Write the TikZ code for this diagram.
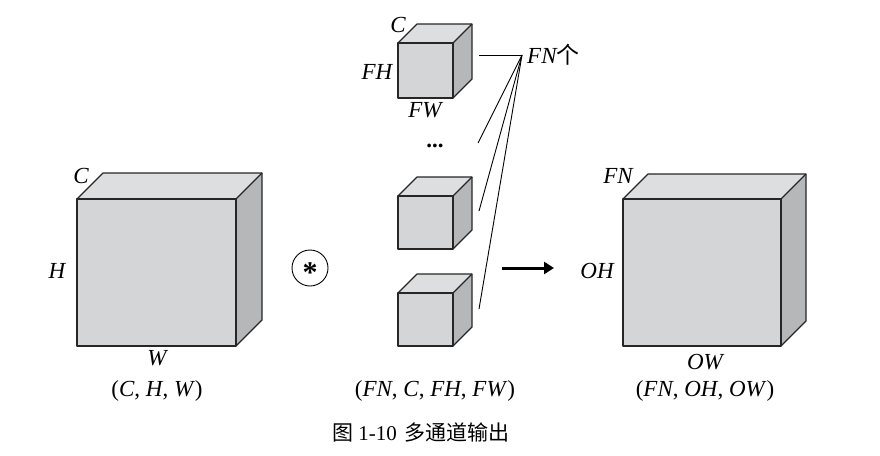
\documentclass[tikz,border=0pt]{standalone}
\usepackage{fontspec}
\setmainfont{Liberation Serif}
\newfontfamily\cjk{Noto Sans CJK SC}
\usetikzlibrary{arrows.meta}
\definecolor{cfront}{HTML}{D4D5D7}
\definecolor{ctop}{HTML}{DDDEE0}
\definecolor{cside}{HTML}{B6B7B9}
\newcommand\drawcube[5]{% x y w h d
  \fill[ctop] (#1,#2) -- ++(#5,-#5) -- ++(#3,0) -- ++(-#5,#5) -- cycle;
  \fill[cside] (#1+#3,#2) -- ++(#5,-#5) -- ++(0,#4) -- ++(-#5,#5) -- cycle;
  \fill[cfront] (#1,#2) rectangle ++(#3,#4);
  \draw[cubeline] (#1,#2) rectangle ++(#3,#4);
  \draw[cubeline] (#1,#2) -- ++(#5,-#5) -- ++(#3,0) -- ++(0,#4) -- ++(-#5,#5);
  \draw[cubeline] (#1+#3,#2) -- ++(#5,-#5);
}
\tikzset{
  cubeline/.style={line width=1.2pt, line join=round, draw=black!85},
  lbl/.style={font=\fontsize{23}{26}\selectfont\itshape, inner sep=0pt},
  captxt/.style={font=\fontsize{23}{26}\selectfont, inner sep=0pt},
  thinln/.style={line width=0.9pt}
}
\begin{document}
\begin{tikzpicture}[x=1pt,y=-1pt]
\useasboundingbox (0,0) rectangle (880,455);
% cubes
\drawcube{77}{199}{159}{147}{26}
\drawcube{623}{199}{158}{147}{25}
\drawcube{398}{43}{55}{55}{19}
\drawcube{398}{196}{55}{53}{19}
\drawcube{398}{293}{55}{53}{19}
% labels big left
\node[lbl] (lc) at (81,176) {C};
\node[lbl] (lh) at (57,271) {H};
\node[lbl] (lw) at (157,358) {W};
\node[captxt] (lchw) at (157,391) {(\textit{C}, \textit{H}, \textit{W})};
% small cube labels
\node[lbl] (sc) at (398,25) {C};
\node[lbl] (sfh) at (377,72) {FH};
\node[lbl] (sfw) at (425,110) {FW};
\node[captxt] (dots) at (435,146) {\textbf{...}};
\node[captxt] (fnct) at (435,391) {(\textit{FN}, \textit{C}, \textit{FH}, \textit{FW})};
% FN label and lines
\coordinate (apex) at (522,55);
\node[lbl, anchor=west] (fn) at (527,55) {FN{\upshape\cjk 个}};
\coordinate (e0) at (479,55);
\coordinate (e1) at (478,143);
\coordinate (e2) at (479,211);
\coordinate (e3) at (479,309);
\draw[thinln] (apex) -- (e0);
\draw[thinln] (apex) -- (e1);
\draw[thinln] (apex) -- (e2);
\draw[thinln] (apex) -- (e3);
% asterisk
\node[draw, circle, thinln, minimum size=36pt, inner sep=0pt] (star) at (310,268) {};
\node[inner sep=0pt, font=\fontsize{30}{30}\selectfont\bfseries] (starsym) at ([yshift=-5pt]star.center) {*};
% arrow
\coordinate (a0) at (502,268);
\coordinate (a1) at (554,268);
\draw[line width=3pt, -{Triangle[length=10pt,width=12pt]}] (a0) -- (a1);
% right labels
\node[lbl] (rfn) at (618,176) {FN};
\node[lbl] (roh) at (597,271) {OH};
\node[lbl] (row) at (705,362) {OW};
\node[captxt] (rfnohow) at (705,391) {(\textit{FN}, \textit{OH}, \textit{OW})};
% caption
\node[captxt, font=\fontsize{21}{24}\selectfont] (caption) at (421,432) {{\cjk 图} 1-10\hspace{8pt}{\cjk 多通道输出}};
\end{tikzpicture}
\end{document}
